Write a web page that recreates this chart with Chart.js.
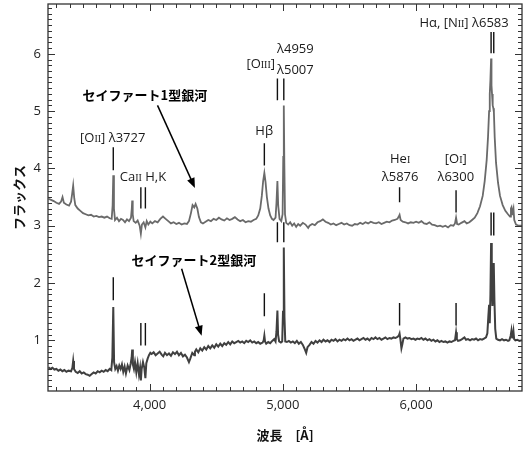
<!DOCTYPE html>
<html lang="ja">
<head>
<meta charset="utf-8">
<title>セイファート銀河のスペクトル</title>
<script src="https://cdn.jsdelivr.net/npm/chart.js@4.4.1/dist/chart.umd.min.js"></script>
<style>
  html, body { margin: 0; padding: 0; background: #fff; }
  #wrap { position: relative; width: 530px; height: 453px; }
</style>
</head>
<body>
<div id="wrap"><canvas id="spectrum"></canvas></div>
<script>
// セイファート1型銀河: 波長 [Å] とフラックス
const sy1Wave = [
  3240, 3260, 3280, 3300, 3320, 3335, 3346, 3356, 3375, 3395, 3410, 3418, 3426, 3434, 3442,
  3460, 3480, 3500, 3520, 3540, 3560, 3580, 3600, 3620, 3640, 3660, 3680, 3700, 3715, 3722,
  3727, 3732, 3740, 3755, 3770, 3785, 3800, 3815, 3830, 3845, 3860, 3866, 3869, 3873, 3880,
  3895, 3910, 3925, 3934, 3942, 3955, 3968, 3978, 3990, 4005, 4020, 4040, 4060, 4080, 4100,
  4120, 4140, 4160, 4180, 4200, 4220, 4240, 4260, 4280, 4295, 4310, 4322, 4335, 4345, 4358,
  4370, 4385, 4400, 4420, 4440, 4460, 4480, 4500, 4520, 4540, 4560, 4580, 4600, 4620, 4640,
  4660, 4680, 4700, 4720, 4740, 4760, 4780, 4800, 4815, 4830, 4842, 4852, 4861, 4870, 4880,
  4892, 4905, 4918, 4930, 4945, 4952, 4959, 4965, 4975, 4988, 4998, 5003, 5007, 5011, 5016,
  5025, 5040, 5055, 5070, 5085, 5100, 5115, 5130, 5150, 5170, 5190, 5200, 5220, 5240, 5260,
  5280, 5300, 5320, 5340, 5360, 5380, 5400, 5420, 5440, 5460, 5480, 5500, 5520, 5540, 5560,
  5580, 5600, 5620, 5640, 5660, 5680, 5700, 5720, 5740, 5760, 5780, 5800, 5820, 5840, 5860,
  5870, 5876, 5884, 5900, 5920, 5940, 5960, 5980, 6000, 6020, 6040, 6060, 6080, 6100, 6120,
  6140, 6160, 6180, 6200, 6220, 6240, 6260, 6280, 6292, 6300, 6308, 6320, 6340, 6363, 6380,
  6400, 6420, 6440, 6460, 6480, 6500, 6515, 6530, 6540, 6548, 6553, 6558, 6563, 6566, 6570,
  6575, 6580, 6584, 6590, 6600, 6615, 6630, 6650, 6670, 6690, 6705, 6712, 6716, 6722, 6727,
  6731, 6737, 6750, 6770, 6795
];
const sy1Flux = [
  3.47, 3.45, 3.43, 3.40, 3.38, 3.42, 3.50, 3.40, 3.37, 3.35, 3.42, 3.55, 3.70, 3.48, 3.36,
  3.30, 3.26, 3.22, 3.20, 3.18, 3.19, 3.16, 3.17, 3.15, 3.16, 3.14, 3.16, 3.13, 3.12, 3.35,
  3.88, 3.30, 3.10, 3.14, 3.08, 3.12, 3.10, 3.06, 3.11, 3.08, 3.14, 3.30, 3.44, 3.20, 3.08,
  3.05, 3.09, 3.00, 2.86, 3.02, 3.06, 2.97, 3.08, 3.02, 3.07, 3.04, 3.08, 3.06, 3.12, 3.16,
  3.12, 3.08, 3.04, 3.06, 3.03, 3.05, 3.02, 3.04, 3.03, 3.08, 3.22, 3.36, 3.32, 3.38, 3.30,
  3.15, 3.06, 3.04, 3.07, 3.10, 3.08, 3.12, 3.10, 3.14, 3.11, 3.09, 3.13, 3.10, 3.12, 3.15,
  3.11, 3.08, 3.10, 3.06, 3.08, 3.07, 3.10, 3.12, 3.18, 3.30, 3.52, 3.78, 3.92, 3.76, 3.50,
  3.30, 3.18, 3.12, 3.10, 3.14, 3.40, 3.78, 3.35, 3.12, 3.08, 3.20, 4.20, 5.10, 4.10, 3.20,
  3.05, 3.02, 3.06, 3.00, 3.04, 2.98, 3.03, 3.00, 3.05, 3.02, 2.96, 3.00, 3.03, 3.01, 3.06,
  3.08, 3.11, 3.07, 3.05, 3.02, 3.04, 3.01, 3.03, 3.05, 3.02, 3.04, 3.01, 3.00, 3.03, 3.02,
  3.05, 3.03, 3.06, 3.04, 3.07, 3.05, 3.04, 3.06, 3.03, 3.05, 3.07, 3.06, 3.09, 3.10, 3.12,
  3.16, 3.19, 3.10, 3.07, 3.06, 3.04, 3.06, 3.05, 3.07, 3.05, 3.08, 3.04, 3.03, 3.06, 3.02,
  3.01, 2.99, 3.00, 2.98, 3.00, 2.97, 3.01, 3.00, 3.04, 3.14, 3.03, 3.02, 3.05, 3.08, 3.04,
  3.06, 3.10, 3.14, 3.22, 3.34, 3.52, 3.78, 4.15, 4.55, 5.00, 5.30, 5.55, 5.92, 5.45, 5.30,
  5.10, 5.05, 4.98, 4.55, 4.10, 3.75, 3.52, 3.36, 3.26, 3.20, 3.16, 3.30, 3.32, 3.20, 3.26,
  3.30, 3.10, 3.02, 3.00, 3.00
];

// セイファート2型銀河: 波長 [Å] とフラックス
const sy2Wave = [
  3240, 3255, 3270, 3285, 3300, 3315, 3330, 3345, 3360, 3375, 3390, 3410, 3420, 3426, 3432,
  3445, 3460, 3475, 3490, 3505, 3520, 3535, 3550, 3565, 3580, 3595, 3610, 3625, 3640, 3655,
  3670, 3685, 3700, 3712, 3720, 3727, 3733, 3742, 3752, 3762, 3772, 3782, 3792, 3802, 3812,
  3822, 3835, 3848, 3858, 3865, 3869, 3874, 3882, 3890, 3900, 3910, 3920, 3928, 3934, 3940,
  3950, 3960, 3968, 3975, 3985, 3995, 4005, 4015, 4030, 4045, 4060, 4075, 4090, 4102, 4115,
  4130, 4145, 4160, 4175, 4190, 4205, 4220, 4235, 4250, 4265, 4280, 4295, 4305, 4320, 4335,
  4340, 4350, 4365, 4380, 4395, 4410, 4425, 4440, 4455, 4470, 4485, 4500, 4515, 4530, 4545,
  4560, 4575, 4590, 4605, 4620, 4635, 4650, 4665, 4680, 4695, 4710, 4725, 4740, 4755, 4770,
  4785, 4800, 4815, 4830, 4848, 4856, 4861, 4866, 4875, 4890, 4905, 4920, 4935, 4945, 4952,
  4959, 4964, 4972, 4985, 4995, 5001, 5007, 5012, 5018, 5030, 5045, 5060, 5075, 5090, 5105,
  5120, 5135, 5150, 5165, 5175, 5185, 5200, 5215, 5230, 5245, 5260, 5275, 5290, 5305, 5320,
  5335, 5350, 5365, 5380, 5395, 5410, 5425, 5440, 5455, 5470, 5485, 5500, 5515, 5530, 5545,
  5560, 5575, 5590, 5605, 5620, 5635, 5650, 5665, 5680, 5695, 5710, 5725, 5740, 5755, 5770,
  5785, 5800, 5815, 5830, 5845, 5860, 5870, 5876, 5882, 5890, 5896, 5905, 5920, 5935, 5950,
  5965, 5980, 5995, 6010, 6025, 6040, 6055, 6070, 6085, 6100, 6115, 6130, 6145, 6160, 6175,
  6190, 6205, 6220, 6235, 6250, 6265, 6280, 6292, 6300, 6306, 6315, 6330, 6345, 6363, 6375,
  6390, 6405, 6420, 6435, 6450, 6465, 6480, 6495, 6510, 6525, 6535, 6542, 6548, 6553, 6558,
  6563, 6568, 6573, 6578, 6583, 6588, 6594, 6602, 6615, 6630, 6645, 6660, 6675, 6690, 6700,
  6710, 6716, 6722, 6726, 6731, 6736, 6745, 6760, 6775, 6795
];
const sy2Flux = [
  0.53, 0.50, 0.52, 0.49, 0.50, 0.47, 0.49, 0.46, 0.48, 0.45, 0.47, 0.46, 0.52, 0.64, 0.50,
  0.45, 0.43, 0.46, 0.42, 0.44, 0.41, 0.40, 0.38, 0.41, 0.44, 0.42, 0.46, 0.44, 0.47, 0.45,
  0.48, 0.46, 0.50, 0.48, 0.70, 1.58, 0.62, 0.50, 0.55, 0.47, 0.56, 0.50, 0.58, 0.45, 0.54,
  0.42, 0.56, 0.48, 0.60, 0.70, 0.84, 0.58, 0.50, 0.62, 0.44, 0.60, 0.40, 0.52, 0.30, 0.50,
  0.62, 0.52, 0.34, 0.60, 0.68, 0.74, 0.78, 0.76, 0.79, 0.74, 0.77, 0.80, 0.75, 0.72, 0.78,
  0.74, 0.77, 0.73, 0.79, 0.76, 0.80, 0.74, 0.78, 0.72, 0.75, 0.70, 0.62, 0.68, 0.78, 0.74,
  0.80, 0.84, 0.79, 0.86, 0.82, 0.88, 0.84, 0.90, 0.86, 0.91, 0.87, 0.93, 0.89, 0.94, 0.90,
  0.95, 0.92, 0.97, 0.93, 0.98, 0.95, 0.97, 0.99, 0.96, 0.98, 0.95, 0.99, 0.97, 1.00, 0.96,
  0.98, 0.95, 0.97, 0.94, 0.96, 1.00, 1.08, 0.98, 0.94, 0.97, 0.95, 0.99, 1.02, 0.98, 1.15,
  1.52, 1.10, 0.98, 0.96, 0.98, 1.50, 2.62, 1.40, 0.98, 0.97, 0.99, 0.96, 0.98, 0.95, 0.99,
  0.94, 0.97, 0.92, 0.84, 0.78, 0.88, 0.92, 0.97, 0.94, 0.99, 0.96, 1.00, 0.97, 1.01, 0.98,
  1.00, 0.97, 1.01, 0.99, 1.02, 0.98, 1.01, 0.99, 1.02, 1.00, 1.03, 1.00, 1.02, 0.99, 1.01,
  1.03, 1.00, 1.02, 1.04, 1.01, 1.03, 1.00, 1.04, 1.02, 1.05, 1.02, 1.04, 1.01, 1.03, 1.05,
  1.02, 1.04, 1.03, 1.05, 1.04, 1.06, 1.08, 1.12, 1.02, 0.86, 0.92, 1.03, 1.05, 1.03, 1.04,
  1.02, 1.03, 1.01, 1.03, 1.02, 1.04, 1.01, 1.03, 1.00, 1.02, 0.99, 1.01, 0.98, 1.00, 0.97,
  0.99, 0.97, 0.98, 0.96, 0.98, 0.97, 0.99, 1.00, 1.14, 1.02, 0.99, 1.00, 1.02, 1.05, 1.01,
  1.02, 1.00, 1.02, 1.01, 1.03, 1.00, 1.02, 1.01, 1.03, 1.05, 1.12, 1.40, 1.62, 1.30, 1.80,
  2.70, 2.10, 1.60, 1.90, 2.35, 1.70, 1.20, 1.03, 1.01, 1.00, 1.02, 1.00, 1.01, 0.99, 1.00,
  1.08, 1.17, 1.05, 1.06, 1.15, 1.02, 1.00, 1.01, 0.99, 1.00
];

const xTicks = [4000, 5000, 6000];
const yTicks = [1, 2, 3, 4, 5, 6];

// 輝線の位置を示す縦棒（上: 1型, 下: 2型）
const lineMarks = [
  { waves: [3727], sy1: [4.37, 3.97], sy2: [2.10, 1.70] },
  { waves: [3934, 3968], sy1: [3.67, 3.30], sy2: [1.30, 0.91] },
  { waves: [4861], sy1: [4.44, 4.05], sy2: [1.82, 1.42] },
  { waves: [4959, 5007], sy1: [5.57, 5.19], sy2: [3.06, 2.71] },
  { waves: [5876], sy1: [3.67, 3.41], sy2: [1.65, 1.26] },
  { waves: [6300], sy1: [3.62, 3.23], sy2: [1.65, 1.26] },
  { waves: [6563, 6583], sy1: [6.38, 6.01], sy2: [3.23, 2.83] }
];

// 輝線名（true の部分は電離度のローマ数字で小さく描く）
const lineLabels = [
  { x: 3723, y: 4.54, align: 'center', parts: [['[O'], ['II', true], ['] λ3727']] },
  { x: 3950, y: 3.86, align: 'center', parts: [['Ca'], ['II', true], [' H,K']] },
  { x: 4860, y: 4.66, align: 'center', parts: [['Hβ']] },
  { x: 4941, y: 5.83, align: 'right', parts: [['[O'], ['III', true], [']']] },
  { x: 4956, y: 6.09, align: 'left', parts: [['λ4959']] },
  { x: 4956, y: 5.72, align: 'left', parts: [['λ5007']] },
  { x: 5880, y: 4.18, align: 'center', parts: [['He'], ['I', true]] },
  { x: 5880, y: 3.86, align: 'center', parts: [['λ5876']] },
  { x: 6298, y: 4.18, align: 'center', parts: [['[O'], ['I', true], [']']] },
  { x: 6298, y: 3.86, align: 'center', parts: [['λ6300']] },
  { x: 6695, y: 6.54, align: 'right', parts: [['Hα, [N'], ['II', true], ['] λ6583']] }
];

const galaxyLabels = [
  { text: 'セイファート1型銀河', x: 3964, y: 5.28, from: [4059, 5.10], to: [4340, 3.66] },
  { text: 'セイファート2型銀河', x: 4332, y: 2.40, from: [4240, 2.25], to: [4390, 1.08] }
];

const mainFont = '13px "Open Sans"';
const smallFont = '10px "Liberation Serif"';

function drawRich(ctx, parts, x, y, align) {
  const widths = parts.map(([t, small]) => {
    ctx.font = small ? smallFont : mainFont;
    return ctx.measureText(t).width;
  });
  const total = widths.reduce((a, b) => a + b, 0);
  let cx = align === 'center' ? x - total / 2 : align === 'right' ? x - total : x;
  parts.forEach(([t, small], i) => {
    ctx.font = small ? smallFont : mainFont;
    ctx.fillText(t, cx, y);
    cx += widths[i];
  });
}

function drawArrow(ctx, x0, y0, x1, y1) {
  const ang = Math.atan2(y1 - y0, x1 - x0);
  const head = 10;
  ctx.beginPath();
  ctx.moveTo(x0, y0);
  ctx.lineTo(x1 - Math.cos(ang) * head * 0.8, y1 - Math.sin(ang) * head * 0.8);
  ctx.stroke();
  ctx.beginPath();
  ctx.moveTo(x1, y1);
  ctx.lineTo(x1 - head * Math.cos(ang) + 4 * Math.sin(ang), y1 - head * Math.sin(ang) - 4 * Math.cos(ang));
  ctx.lineTo(x1 - head * Math.cos(ang) - 4 * Math.sin(ang), y1 - head * Math.sin(ang) + 4 * Math.cos(ang));
  ctx.closePath();
  ctx.fill();
}

// 枠・内向きの目盛り・注記
const spectrumDecor = {
  id: 'spectrumDecor',
  afterDatasetsDraw(chart) {
    const { ctx, chartArea: a, scales: { x, y } } = chart;
    ctx.save();

    ctx.strokeStyle = '#333';
    ctx.lineWidth = 1.3;
    ctx.strokeRect(a.left, a.top, a.right - a.left, a.bottom - a.top);

    ctx.lineWidth = 1;
    ctx.beginPath();
    for (let w = 3300; w <= 6700; w += 100) {
      const px = Math.round(x.getPixelForValue(w)) + 0.5;
      const len = w % 1000 === 0 ? 7 : 4;
      ctx.moveTo(px, a.bottom); ctx.lineTo(px, a.bottom - len);
      ctx.moveTo(px, a.top); ctx.lineTo(px, a.top + len);
    }
    for (let i = 2; i <= 68; i++) {
      const py = Math.round(y.getPixelForValue(i / 10)) + 0.5;
      const len = i % 10 === 0 ? 7 : 4;
      ctx.moveTo(a.left, py); ctx.lineTo(a.left + len, py);
      ctx.moveTo(a.right, py); ctx.lineTo(a.right - len, py);
    }
    ctx.stroke();

    // 輝線マーカー
    ctx.strokeStyle = '#111';
    ctx.lineWidth = 1.4;
    ctx.beginPath();
    lineMarks.forEach(m => {
      m.waves.forEach(w => {
        const px = x.getPixelForValue(w);
        [m.sy1, m.sy2].forEach(([top, bottom]) => {
          ctx.moveTo(px, y.getPixelForValue(top));
          ctx.lineTo(px, y.getPixelForValue(bottom));
        });
      });
    });
    ctx.stroke();

    ctx.fillStyle = '#1a1a1a';
    ctx.textBaseline = 'alphabetic';
    lineLabels.forEach(l => {
      drawRich(ctx, l.parts, x.getPixelForValue(l.x), y.getPixelForValue(l.y) + 4.5, l.align);
    });

    ctx.fillStyle = '#000';
    ctx.strokeStyle = '#000';
    ctx.lineWidth = 1.5;
    galaxyLabels.forEach(g => {
      ctx.font = 'bold 13px "Noto Sans CJK JP"';
      ctx.textAlign = 'center';
      ctx.textBaseline = 'middle';
      ctx.fillText(g.text, x.getPixelForValue(g.x), y.getPixelForValue(g.y));
      drawArrow(ctx,
        x.getPixelForValue(g.from[0]), y.getPixelForValue(g.from[1]),
        x.getPixelForValue(g.to[0]), y.getPixelForValue(g.to[1]));
    });
    ctx.restore();
  }
};

new Chart(document.getElementById('spectrum'), {
  type: 'line',
  data: {
    datasets: [
      {
        label: 'セイファート1型銀河',
        data: sy1Wave.map((w, i) => ({ x: w, y: sy1Flux[i] })),
        borderColor: '#6a6a6a',
        borderWidth: 1.8,
        pointRadius: 0,
        tension: 0
      },
      {
        label: 'セイファート2型銀河',
        data: sy2Wave.map((w, i) => ({ x: w, y: sy2Flux[i] })),
        borderColor: '#404040',
        borderWidth: 2,
        pointRadius: 0,
        tension: 0
      }
    ]
  },
  options: {
    responsive: true,
    maintainAspectRatio: false,
    animation: false,
    layout: { padding: { top: 4, right: 8, left: 0, bottom: 0 } },
    plugins: {
      legend: { display: false },
      tooltip: { enabled: false }
    },
    scales: {
      x: {
        type: 'linear',
        min: 3237,
        max: 6795,
        grid: { display: false, drawTicks: false },
        border: { display: false },
        afterBuildTicks: s => { s.ticks = xTicks.map(v => ({ value: v })); },
        afterFit: s => { s.height = 62; s.paddingLeft = 0; s.paddingRight = 0; },
        ticks: {
          autoSkip: false,
          maxRotation: 0,
          padding: 6,
          color: '#222',
          font: { family: 'Open Sans', size: 13 },
          callback: v => v.toLocaleString('en-US')
        },
        title: {
          display: true,
          text: '波長　[Å]',
          color: '#111',
          font: { family: '"Noto Sans CJK JP"', size: 13, weight: 'bold' },
          padding: { top: 0, bottom: 10 }
        }
      },
      y: {
        min: 0.115,
        max: 6.87,
        grid: { display: false, drawTicks: false },
        border: { display: false },
        afterBuildTicks: s => { s.ticks = yTicks.map(v => ({ value: v })); },
        afterFit: s => { s.width = 48; s.paddingTop = 0; s.paddingBottom = 0; },
        ticks: {
          padding: 7,
          color: '#222',
          font: { family: 'Open Sans', size: 13 }
        },
        title: {
          display: true,
          text: 'フラックス',
          color: '#111',
          font: { family: '"Noto Sans CJK JP"', size: 13, weight: 'bold' },
          padding: { top: 11, bottom: 0 }
        }
      }
    }
  },
  plugins: [spectrumDecor]
});
</script>
</body>
</html>
